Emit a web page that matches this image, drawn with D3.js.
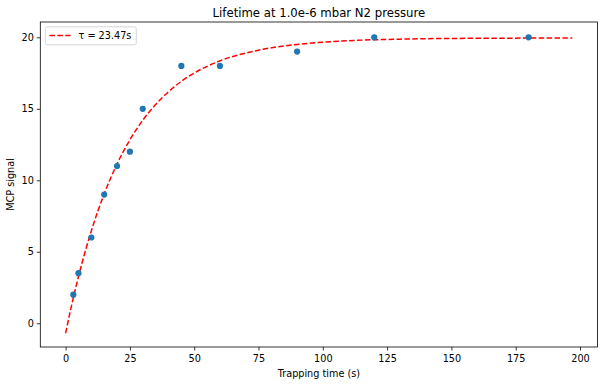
<!DOCTYPE html>
<html>
<head>
<meta charset="utf-8">
<title>Lifetime</title>
<style>
  body { margin: 0; background: #fff; }
  svg text { font-family: "DejaVu Sans", sans-serif; fill: #000; }
</style>
</head>
<body>
<script src="https://d3js.org/d3.v7.min.js"></script>
<script>
// measured points
var times = [3, 5, 10, 15, 20, 25, 30, 45, 60, 90, 120, 180];
var signal = [2, 3.5, 6, 9, 11, 12, 15, 18, 18, 19, 20, 20];
// fitted curve
var fitT = [0, 2, 5, 10, 15, 20, 25, 30, 35, 40, 45, 50, 60, 75, 90, 110, 130, 160, 197];
var fitY = [-0.7, 0.99, 3.26, 6.46, 9.05, 11.14, 12.83, 14.2, 15.3, 16.19, 16.92, 17.5, 18.35, 19.1, 19.5, 19.76, 19.87, 19.93, 19.95];
var xTicks = [0, 25, 50, 75, 100, 125, 150, 175, 200];
var yTicks = [0, 5, 10, 15, 20];
var legendLabel = "\u03c4 = 23.47s";

var W = 605, H = 386;
var axL = 40.3, axR = 597.5, axT = 22, axB = 347;
var fs = 9.7;

var svg = d3.select("body").append("svg")
    .attr("width", W)
    .attr("height", H);

var x = d3.scaleLinear().domain([-9.84, 206.8]).range([axL, axR]);
var y = d3.scaleLinear().domain([-1.66, 21.07]).range([axB, axT]);

// axes
var xAxis = svg.append("g")
    .attr("transform", "translate(0," + axB + ")")
    .call(d3.axisBottom(x).tickValues(xTicks).tickSize(3.5).tickPadding(5));
var yAxis = svg.append("g")
    .attr("transform", "translate(" + axL + ",0)")
    .call(d3.axisLeft(y).tickValues(yTicks).tickSize(3.5).tickPadding(3));
[xAxis, yAxis].forEach(function(a) {
    a.select(".domain").remove();
    a.selectAll("line").attr("stroke", "#000").attr("stroke-width", 0.8);
    a.selectAll("text").style("font-size", fs + "px").attr("fill", "#000");
});

// frame
svg.append("rect")
    .attr("x", axL).attr("y", axT)
    .attr("width", axR - axL).attr("height", axB - axT)
    .attr("fill", "none").attr("stroke", "#000").attr("stroke-width", 0.8);

// fit line
var line = d3.line()
    .x(function(d, i) { return x(fitT[i]); })
    .y(function(d) { return y(d); })
    .curve(d3.curveMonotoneX);
svg.append("path")
    .datum(fitY)
    .attr("d", line)
    .attr("fill", "none")
    .attr("stroke", "red")
    .attr("stroke-width", 1.5)
    .attr("stroke-dasharray", "5.5,2.4");

// scatter
svg.selectAll("circle")
    .data(signal)
    .enter()
    .append("circle")
    .attr("cx", function(d, i) { return x(times[i]); })
    .attr("cy", function(d) { return y(d); })
    .attr("r", 3.1)
    .attr("fill", "#1f77b4");

// title and labels
svg.append("text")
    .attr("x", (axL + axR) / 2).attr("y", 17)
    .attr("text-anchor", "middle")
    .style("font-size", "11.7px")
    .text("Lifetime at 1.0e-6 mbar N2 pressure");
svg.append("text")
    .attr("x", (axL + axR) / 2).attr("y", 376.5)
    .attr("text-anchor", "middle")
    .style("font-size", fs + "px")
    .text("Trapping time (s)");
svg.append("text")
    .attr("transform", "translate(14.3," + ((axT + axB) / 2) + ") rotate(-90)")
    .attr("text-anchor", "middle")
    .style("font-size", fs + "px")
    .text("MCP signal");

// legend
var lg = svg.append("g");
lg.append("rect")
    .attr("x", 45.3).attr("y", 26.8)
    .attr("width", 91).attr("height", 18)
    .attr("rx", 2)
    .attr("fill", "#fff").attr("fill-opacity", 0.8)
    .attr("stroke", "#ccc").attr("stroke-width", 0.8);
lg.append("line")
    .attr("x1", 49.5).attr("x2", 70.5)
    .attr("y1", 35.5).attr("y2", 35.5)
    .attr("stroke", "red").attr("stroke-width", 1.5)
    .attr("stroke-dasharray", "5.5,2.4");
lg.append("text")
    .attr("x", 78.5).attr("y", 39.2)
    .style("font-size", fs + "px")
    .text(legendLabel);
</script>
</body>
</html>
